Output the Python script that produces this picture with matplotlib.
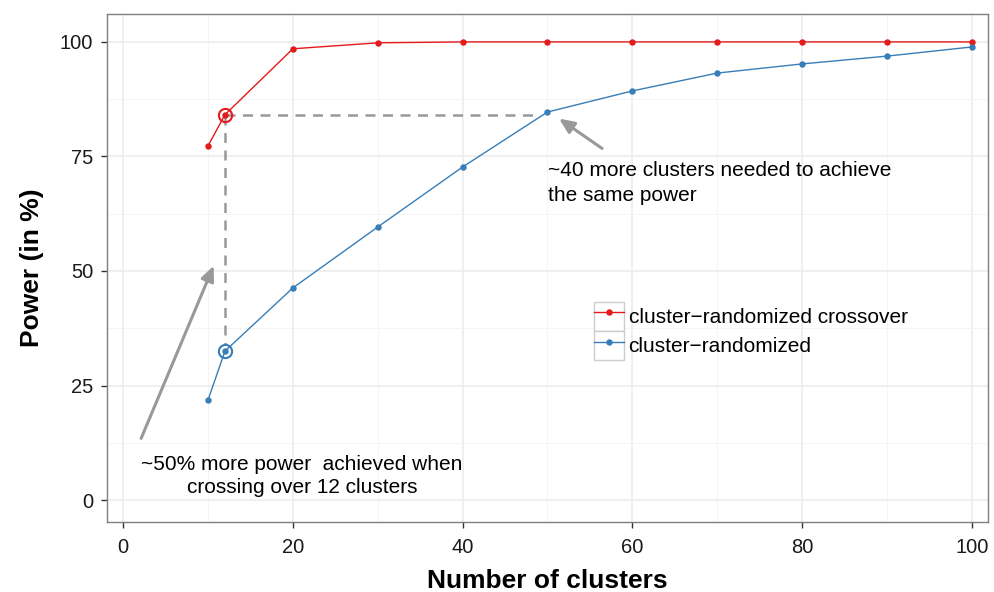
import matplotlib
matplotlib.use("Agg")
import matplotlib.pyplot as plt
from matplotlib.ticker import MultipleLocator
from matplotlib.legend_handler import HandlerLine2D
from matplotlib.patches import Rectangle

clusters = [10, 12, 20, 30, 40, 50, 60, 70, 80, 90, 100]
power_crossover = [77.3, 84.1, 98.5, 99.8, 100, 100, 100, 100, 100, 100, 100]
power_parallel = [21.8, 32.5, 46.3, 59.6, 72.7, 84.7, 89.3, 93.2, 95.2, 96.9, 98.9]

red = "#E41A1C"
blue = "#377EB8"
grey = "#999999"

plt.rcParams['font.family'] = ['Liberation Sans', 'DejaVu Sans']


class BoxedLine(HandlerLine2D):
    # ggplot-like legend key: line + point inside a grey bordered box
    def create_artists(self, legend, orig_handle, xdescent, ydescent, width, height, fontsize, trans):
        artists = super().create_artists(legend, orig_handle, xdescent, ydescent,
                                         width, height, fontsize, trans)
        box = Rectangle((-xdescent, -ydescent), width, height, transform=trans,
                        facecolor='white', edgecolor='#CCCCCC', lw=1, zorder=0)
        return [box] + artists


fig = plt.figure(figsize=(9.94, 5.92), dpi=100)
ax = fig.add_axes([0.1076, 0.1182, 0.8864, 0.8582])

ax.set_xlim(-1.9, 101.9)
ax.set_ylim(-4.8, 106.1)
ax.xaxis.set_major_locator(MultipleLocator(20))
ax.xaxis.set_minor_locator(MultipleLocator(10))
ax.yaxis.set_major_locator(MultipleLocator(25))
ax.yaxis.set_minor_locator(MultipleLocator(12.5))
ax.grid(which='major', color='#EBEBEB', lw=1.1)
ax.grid(which='minor', color='#F4F4F4', lw=0.6)
ax.set_axisbelow(True)
ax.tick_params(which='minor', length=0)
ax.tick_params(which='major', length=4, width=1, color='#333333',
               labelsize=14.5, labelcolor='#1A1A1A')
ax.tick_params(axis='x', pad=7.5)
ax.tick_params(axis='y', pad=6)
for s in ax.spines.values():
    s.set_color('#7F7F7F')
    s.set_linewidth(1)

# dashed guide lines
ax.plot([clusters[1], 49], [power_crossover[1], power_crossover[1]], ls=(0, (4, 3)),
        color=grey, lw=1.8, zorder=2)
ax.plot([clusters[1], clusters[1]], [power_crossover[1], 33.8], ls=(0, (4, 3)),
        color=grey, lw=1.8, zorder=2)

ax.plot(clusters, power_crossover, color=red, lw=1, marker='o', ms=3.6,
        label='cluster\u2212randomized crossover', zorder=3)
ax.plot(clusters, power_parallel, color=blue, lw=1, marker='o', ms=3.6,
        label='cluster\u2212randomized', zorder=3)

# highlight circles at 12 clusters
ax.plot([clusters[1]], [power_crossover[1]], marker='o', ms=9.5, mfc='none', mec=red, mew=1.5, zorder=4)
ax.plot([clusters[1]], [power_parallel[1]], marker='o', ms=9.5, mfc='none', mec=blue, mew=1.5, zorder=4)

ax.annotate('', xy=(10.8, 51.7), xytext=(2.0, 12.9),
            arrowprops=dict(arrowstyle='-|>,head_length=0.9,head_width=0.4', color=grey, lw=2.2))
ax.annotate('', xy=(51.1, 83.6), xytext=(56.7, 76.4),
            arrowprops=dict(arrowstyle='-|>,head_length=0.9,head_width=0.4', color=grey, lw=2.2))

ax.text(21.1, 5.2, '~50% more power  achieved when\ncrossing over 12 clusters',
        ha='center', va='center', fontsize=15, linespacing=1.3)
ax.text(50.1, 69.2, '~40 more clusters needed to achieve\nthe same power',
        ha='left', va='center', fontsize=15, linespacing=1.35)

ax.set_xlabel('Number of clusters', fontsize=19, fontweight='bold', labelpad=9)
ax.set_ylabel('Power (in %)', fontsize=19, fontweight='bold', labelpad=11.5)

leg = ax.legend(loc='center left', bbox_to_anchor=(0.553, 0.376), fontsize=15,
                frameon=False, handlelength=1.45, handleheight=1.8, handletextpad=0.2,
                labelspacing=0.0, borderaxespad=0, borderpad=0,
                handler_map={plt.Line2D: BoxedLine()})

fig.savefig('out.png', dpi=100)
